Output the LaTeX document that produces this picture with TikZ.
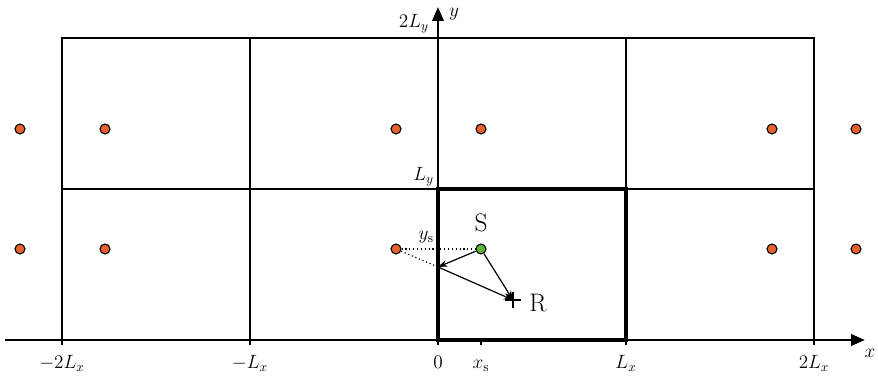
\documentclass[tikz,border=0pt]{standalone}
\usetikzlibrary{arrows.meta}
\definecolor{imgcol}{RGB}{232,96,45}
\definecolor{srccol}{RGB}{95,180,55}
\begin{document}
\begin{tikzpicture}[x=0.75pt,y=0.75pt,
  every node/.style={font=\fontsize{14.5}{17}\selectfont},
  grid/.style={line width=0.85pt},
  thickbox/.style={line width=2.4pt},
  axis/.style={line width=2pt,-{Triangle[length=10.5pt,width=8.5pt]}},
  img/.style={circle,draw=black,line width=0.8pt,fill=imgcol,inner sep=0pt,minimum size=7.5pt},
  src/.style={circle,draw=black,line width=0.8pt,fill=srccol,inner sep=0pt,minimum size=7.5pt},
  ray/.style={line width=0.9pt,-{Stealth[length=7pt,width=5pt]}},
  tick/.style={line width=0.9pt},
  lab/.style={inner sep=0pt},
  big/.style={font=\fontsize{19}{22}\selectfont}]
\useasboundingbox (-438,-37) rectangle (440,340);
% grid
\draw[grid] (-376,0) rectangle (376,302);
\foreach \xx in {-188,188} \draw[grid] (\xx,0) -- (\xx,302);
\draw[grid] (-376,151) -- (376,151);
% thick cell
\draw[thickbox] (0,0) rectangle (188,151);
% axes
\coordinate (xa0) at (-433,0);
\coordinate (xa1) at (427,0);
\coordinate (ya0) at (0,0);
\coordinate (ya1) at (0,333);
\draw[axis] (xa0) -- (xa1);
\draw[axis] (ya0) -- (ya1);
\node[lab] (xl) at (432,-13) {$x$};
\node[lab] (yl) at (16,326) {$y$};
% ticks and labels
\foreach \xx/\t/\nm in {-376/{$-2L_x$}/a,-188/{$-L_x$}/b,0/{$0$}/c,43/{$x_{\mathrm{s}}$}/d,188/{$L_x$}/e,376/{$2L_x$}/f}{
  \draw[tick] (\xx,0) -- (\xx,-5);
  \node[anchor=base,lab] (t\nm) at (\xx,-29) {\t};
}
\node[anchor=east,lab] (l2ly) at (-9,316) {$2L_y$};
\node[anchor=east,lab] (lly) at (-4,163) {$L_y$};
\node[anchor=east,lab] (lys) at (-4,103) {$y_{\mathrm{s}}$};
% image sources
\foreach \xx/\nm in {-418/a,-333/b,-42/c,334/e,418/f}{
  \node[img] (u\nm) at (\xx,211) {};
  \node[img] (d\nm) at (\xx,91) {};
}
\node[img] (ud) at (43,211) {};
% source and receiver
\node[src] (S) at (43,91) {};
\node[big,lab] (Sl) at (43,117) {S};
\coordinate (R) at (75,40);
\draw[line width=1.1pt] (67,40) -- (83,40) (75,32) -- (75,48);
\node[big,lab] (Rl) at (100,37) {R};
\coordinate (P) at (0,73);
% rays
\draw[dotted,line width=0.9pt] (dc) -- (S);
\draw[dotted,line width=0.9pt] (dc) -- (P);
\draw[ray] (S) -- (P);
\draw[ray] (P) -- (R);
\draw[ray] (S) -- (R);
\end{tikzpicture}
\end{document}
